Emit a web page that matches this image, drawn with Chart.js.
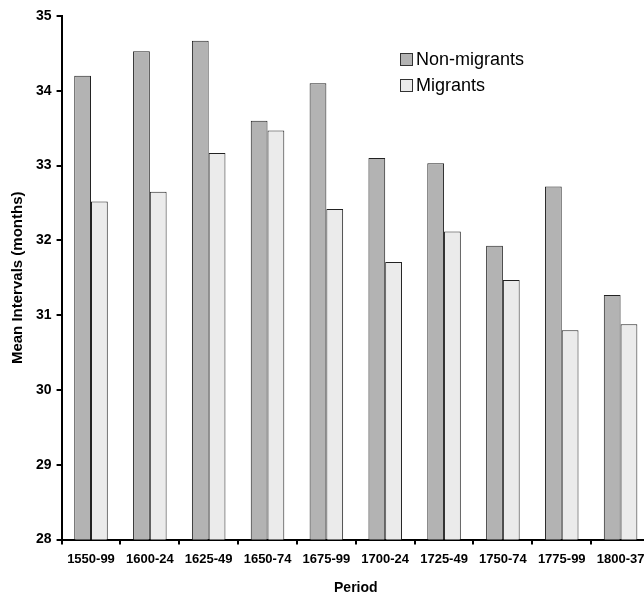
<!DOCTYPE html>
<html>
<head>
<meta charset="utf-8">
<script src="https://cdn.jsdelivr.net/npm/chart.js@4"></script>
<style>
  html, body { margin: 0; padding: 0; background: #fff; overflow: hidden; }
</style>
</head>
<body>
<canvas id="myChart" width="660" height="597"></canvas>
<script>
// periods along the x axis
var periods = ['1550-99', '1600-24', '1625-49', '1650-74', '1675-99',
               '1700-24', '1725-49', '1750-74', '1775-99', '1800-37'];
// mean birth intervals in months
var nonMigrants = [34.2, 34.53, 34.67, 33.6, 34.1, 33.1, 33.03, 31.93, 32.72, 31.27];
var migrants = [32.52, 32.65, 33.17, 33.47, 32.42, 31.71, 32.12, 31.47, 30.8, 30.88];
var yTicks = [28, 29, 30, 31, 32, 33, 34, 35];

const FONT = 'Arial, "Liberation Sans", sans-serif';

// legend drawn inside the plot like the original
const boxLegend = {
    id: 'boxLegend',
    afterDraw(chart) {
        const ctx = chart.ctx;
        ctx.save();
        chart.data.datasets.forEach(function (ds, i) {
            const y = 53 + i * 26;
            ctx.fillStyle = ds.backgroundColor;
            ctx.fillRect(400.5, y + 0.5, 12, 12);
            ctx.strokeStyle = '#333';
            ctx.lineWidth = 1;
            ctx.strokeRect(400.5, y + 0.5, 12, 12);
            ctx.fillStyle = '#000';
            ctx.font = '18px ' + FONT;
            ctx.textBaseline = 'middle';
            ctx.fillText(ds.label, 416, y + 7);
        });
        ctx.restore();
    }
};

const GRAPH = document.getElementById('myChart');
const barGraph = new Chart(GRAPH, {
    type: 'bar',
    data: {
        labels: periods,
        datasets: [{
            label: 'Non-migrants',
            data: nonMigrants,
            backgroundColor: '#b3b3b3',
            borderColor: '#222',
            borderWidth: 1,
            categoryPercentage: 0.57,
            barPercentage: 1.0
        }, {
            label: 'Migrants',
            data: migrants,
            backgroundColor: '#ebebeb',
            borderColor: '#222',
            borderWidth: 1,
            categoryPercentage: 0.57,
            barPercentage: 1.0
        }]
    },
    options: {
        responsive: false,
        animation: false,
        layout: { padding: { top: 16, right: 10, left: 9, bottom: 0 } },
        plugins: {
            legend: { display: false },
            tooltip: { enabled: false }
        },
        scales: {
            x: {
                grid: { drawOnChartArea: false, drawTicks: true, tickLength: 5, color: '#000', lineWidth: 2 },
                border: { color: '#000', width: 2 },
                ticks: { color: '#000', font: { family: FONT, size: 13, weight: 'bold' }, maxRotation: 0, autoSkip: false, padding: 7 },
                title: { display: true, text: 'Period', color: '#000', font: { family: FONT, size: 14, weight: 'bold' }, padding: { top: 6, bottom: 0 } }
            },
            y: {
                min: 28,
                max: 35,
                afterBuildTicks: function (axis) {
                    axis.ticks = yTicks.map(function (v) { return { value: v }; });
                },
                grid: { drawOnChartArea: false, drawTicks: true, tickLength: 5, color: '#000', lineWidth: 2 },
                border: { color: '#000', width: 2 },
                ticks: { color: '#000', font: { family: FONT, size: 14, weight: 'bold' }, padding: 5 },
                title: { display: true, text: 'Mean Intervals (months)', color: '#000', font: { family: FONT, size: 15, weight: 'bold' }, padding: { top: 0, bottom: 4 } }
            }
        }
    },
    plugins: [boxLegend]
});
</script>
</body>
</html>
